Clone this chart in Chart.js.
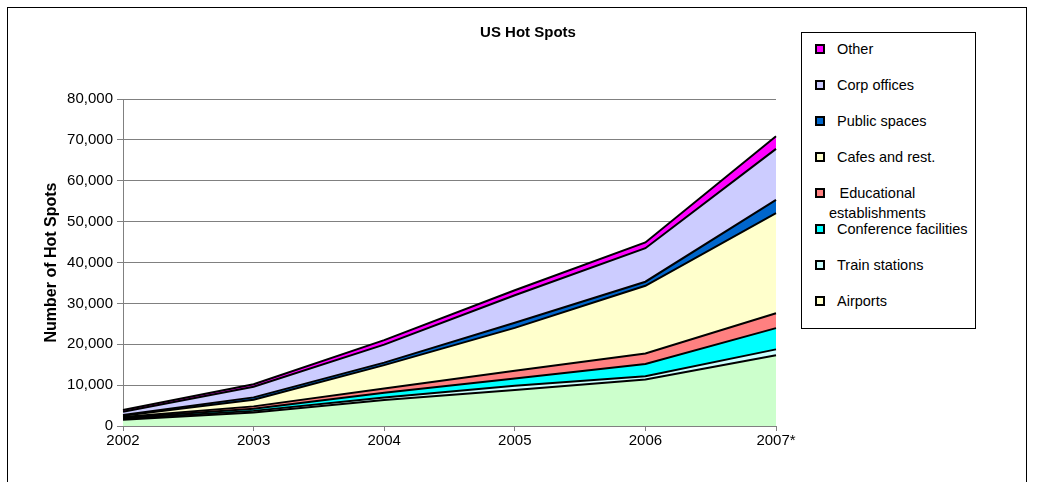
<!DOCTYPE html>
<html>
<head>
<meta charset="utf-8">
<script src="https://cdn.jsdelivr.net/npm/chart.js@4/dist/chart.umd.min.js"></script>
<style>
  body { margin: 0; background: #fff; font-family: "Liberation Sans", Arial, sans-serif; }
  #wrap { position: relative; width: 1042px; height: 482px; overflow: hidden; }
  #frame { position: absolute; left: 7px; top: 7px; width: 1018px; height: 520px; border: 1px solid #000; }
  #chartBox { position: absolute; left: 0; top: 0; width: 1042px; height: 482px; }
  #title { position: absolute; left: 428px; top: 22px; width: 200px; text-align: center;
           font-size: 15px; line-height: 20px; font-weight: bold; color: #000; }
  #legend { position: absolute; left: 801px; top: 32px; width: 173px; height: 295px; border: 1px solid #000; background: #fff; }
  .item { position: absolute; left: 0; width: 173px; }
  .swatch { position: absolute; left: 13px; width: 6px; height: 6px; border: 2px solid #000; }
  .label { position: absolute; left: 35px; font-size: 14.5px; line-height: 20px; color: #000; white-space: pre; text-align: center; }
  .label.wide { left: 27px; }
</style>
</head>
<body>
<div id="wrap">
  <div id="frame"></div>
  <div id="chartBox"><canvas id="hotSpotsChart"></canvas></div>
  <div id="title">US Hot Spots</div>
  <div id="legend"></div>
</div>
<script>
// ========== Data ==========
const years = ['2002', '2003', '2004', '2005', '2006', '2007*'];

const airports     = [1500, 3300, 6350, 8800, 11400, 17300];
const trainStations = [300, 400, 650, 1050, 800, 1450];
const conference   = [200, 500, 1150, 1750, 2950, 5200];
const educational  = [200, 600, 1050, 1900, 2600, 3650];
const cafes        = [300, 1600, 5700, 10500, 16550, 24500];
const publicSpaces = [200, 600, 600, 1250, 1000, 3200];
const corpOffices  = [800, 2600, 4400, 6750, 8200, 12500];
const other        = [400, 600, 1100, 1200, 1400, 3100];

const yTicks = [0, 10000, 20000, 30000, 40000, 50000, 60000, 70000, 80000];

// series from the bottom of the stack upwards
const seriesNames = ['Airports', 'Train stations', 'Conference facilities', 'Educational\nestablishments',
                     'Cafes and rest.', 'Public spaces', 'Corp offices', 'Other'];
const seriesData = [airports, trainStations, conference, educational, cafes, publicSpaces, corpOffices, other];

// ========== Styles ==========
const fillColors   = ['#CCFFCC', '#CCFFFF', '#00FFFF', '#FF8080', '#FFFFCC', '#0066CC', '#CCCCFF', '#FF00FF'];
const legendColors = ['#FFFFCC', '#CCFFFF', '#00FFFF', '#FF8080', '#FFFFCC', '#0066CC', '#CCCCFF', '#FF00FF'];
const FONT = '"Liberation Sans", Arial, sans-serif';

const datasets = seriesData.map((data, i) => ({
  label: seriesNames[i].replace('\n', ' '),
  data: data,
  backgroundColor: fillColors[i],
  borderColor: '#000',
  borderWidth: 2,
  pointRadius: 0,
  tension: 0,
  fill: i === 0 ? 'origin' : '-1'
}));

new Chart(document.getElementById('hotSpotsChart'), {
  type: 'line',
  data: { labels: years, datasets },
  options: {
    responsive: true,
    maintainAspectRatio: false,
    animation: false,
    layout: { padding: { left: 0, right: 266, top: 99, bottom: 0 } },
    plugins: {
      legend: { display: false },
      tooltip: { enabled: false }
    },
    scales: {
      x: {
        offset: false,
        grid: { drawOnChartArea: false, drawTicks: true, tickLength: 5, color: '#808080' },
        border: { color: '#808080', width: 1 },
        ticks: { color: '#000', padding: 1, maxRotation: 0, font: { family: FONT, size: 15 } },
        afterFit: scale => { scale.height = 56; }
      },
      y: {
        stacked: true,
        min: 0,
        max: 80000,
        afterBuildTicks: scale => { scale.ticks = yTicks.map(v => ({ value: v })); },
        grid: { color: '#808080', tickLength: 6 },
        border: { color: '#808080', width: 1 },
        ticks: {
          color: '#000',
          padding: 4,
          font: { family: FONT, size: 15 },
          callback: v => v.toLocaleString('en-US')
        },
        title: {
          display: true,
          text: 'Number of Hot Spots',
          color: '#000',
          font: { family: FONT, size: 16, weight: 'bold', lineHeight: 1.2 },
          padding: { top: 42, bottom: 0 }
        },
        afterFit: scale => { scale.width = 123; }
      }
    }
  }
});

// ========== Legend (top of stack first) ==========
const legend = document.getElementById('legend');
for (let k = 0; k < seriesNames.length; k++) {
  const i = seriesNames.length - 1 - k;
  const center = 16 + k * 36;
  const wide = seriesNames[i].includes('\n') ? ' wide' : '';
  const item = document.createElement('div');
  item.className = 'item';
  item.style.top = '0px';
  item.innerHTML = `
    <div class="swatch" style="top:${center - 5}px;background:${legendColors[i]}"></div>
    <div class="label${wide}" style="top:${center - 10}px">${seriesNames[i]}</div>
  `;
  legend.appendChild(item);
}
</script>
</body>
</html>
